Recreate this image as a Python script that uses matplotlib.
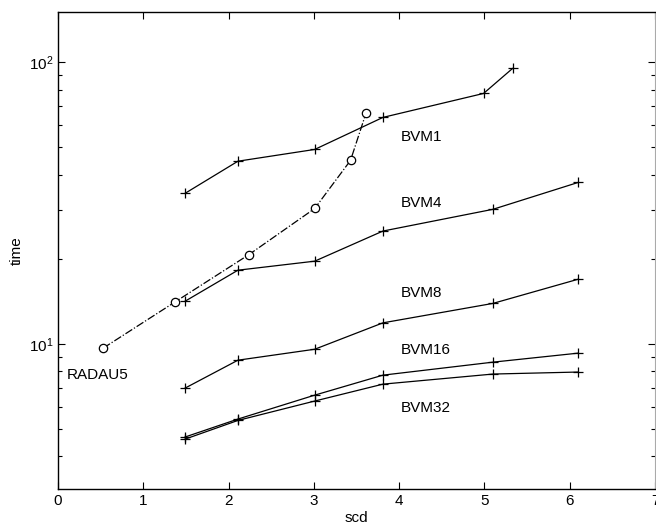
import matplotlib
matplotlib.use("Agg")
import matplotlib.pyplot as plt
from matplotlib.ticker import LogLocator, NullFormatter, FixedLocator

plt.rcParams['font.family'] = ['Liberation Sans', 'DejaVu Sans']
plt.rcParams['mathtext.fontset'] = 'custom'
plt.rcParams['mathtext.rm'] = 'Liberation Sans'
plt.rcParams['mathtext.it'] = 'Liberation Sans'

# data
radau_x = [0.53, 1.37, 2.24, 3.01, 3.43, 3.61]
radau_y = [9.68, 14.1, 20.8, 30.3, 44.9, 65.9]

bvm1_x = [1.49, 2.11, 3.01, 3.81, 4.99, 5.33]
bvm1_y = [34.3, 44.6, 49.1, 63.8, 77.6, 95.2]

bvm_x = [1.49, 2.11, 3.01, 3.81, 5.10, 6.10]
bvm4_y = [14.2, 18.3, 19.7, 25.2, 30.1, 37.5]
bvm8_y = [6.98, 8.77, 9.59, 11.9, 13.95, 17.0]
bvm16_y = [4.68, 5.42, 6.59, 7.76, 8.63, 9.29]
bvm32_y = [4.60, 5.36, 6.28, 7.21, 7.83, 7.96]

labels = ["BVM1", "BVM4", "BVM8", "BVM16", "BVM32", "RADAU5"]
label_x = [4.02, 4.02, 4.02, 4.02, 4.02, 0.105]
label_y = [54.2, 31.6, 15.2, 9.53, 5.93, 7.76]

fig = plt.figure(figsize=(6.56, 5.28), dpi=100)
ax = fig.add_axes([58/656, 1 - 489/528, 597/656, 477/528])

lw = 0.9
ax.plot(radau_x, radau_y, color='black', linestyle='-.', lw=lw,
        marker='o', markersize=6, markerfacecolor='white', markeredgewidth=0.9)
for ys, xs in [(bvm1_y, bvm1_x), (bvm4_y, bvm_x), (bvm8_y, bvm_x),
               (bvm16_y, bvm_x), (bvm32_y, bvm_x)]:
    ax.plot(xs, ys, color='black', lw=lw, marker='+', markersize=7,
            markeredgewidth=0.9)

for t, x, y in zip(labels, label_x, label_y):
    ax.text(x, y, t, fontsize=11, ha='left', va='center')

ax.set_yscale('log')
ax.set_xlim(0, 7)
ax.set_ylim(3.06, 151)
ax.xaxis.set_major_locator(FixedLocator([0, 1, 2, 3, 4, 5, 6, 7]))
ax.yaxis.set_major_locator(LogLocator(base=10))
ax.yaxis.set_minor_locator(LogLocator(base=10, subs=range(2, 10)))
ax.yaxis.set_minor_formatter(NullFormatter())

ax.tick_params(which='both', direction='in', top=True, right=True,
               labelsize=11, width=0.8, colors='black')
ax.tick_params(which='major', length=5)
ax.tick_params(which='minor', length=3)
for s in ['left', 'bottom', 'top']:
    ax.spines[s].set_linewidth(1.0)
ax.spines['right'].set_color('#aaaaaa')
ax.spines['right'].set_linewidth(0.8)

ax.set_xlabel('scd', fontsize=11, labelpad=2)
ax.set_ylabel('time', fontsize=11)
ax.yaxis.set_label_coords(-0.057, 0.5)

fig.savefig('out.png', dpi=100)
